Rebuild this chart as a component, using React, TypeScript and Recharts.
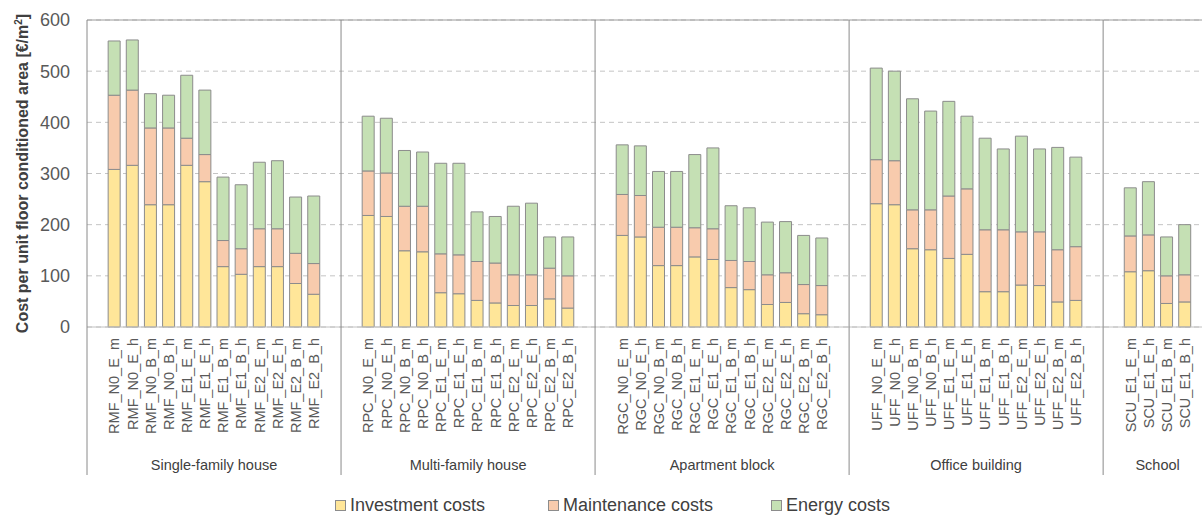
import { BarChart, Bar, XAxis, YAxis, CartesianGrid, ReferenceLine, Label } from 'recharts'

const groupNames = ['Single-family house', 'Multi-family house', 'Apartment block', 'Office building', 'School']

const sfhLabels = ['RMF_N0_E_m', 'RMF_N0_E_h', 'RMF_N0_B_m', 'RMF_N0_B_h', 'RMF_E1_E_m', 'RMF_E1_E_h', 'RMF_E1_B_m', 'RMF_E1_B_h', 'RMF_E2_E_m', 'RMF_E2_E_h', 'RMF_E2_B_m', 'RMF_E2_B_h']
const mfhLabels = ['RPC_N0_E_m', 'RPC_N0_E_h', 'RPC_N0_B_m', 'RPC_N0_B_h', 'RPC_E1_E_m', 'RPC_E1_E_h', 'RPC_E1_B_m', 'RPC_E1_B_h', 'RPC_E2_E_m', 'RPC_E2_E_h', 'RPC_E2_B_m', 'RPC_E2_B_h']
const abLabels = ['RGC_N0_E_m', 'RGC_N0_E_h', 'RGC_N0_B_m', 'RGC_N0_B_h', 'RGC_E1_E_m', 'RGC_E1_E_h', 'RGC_E1_B_m', 'RGC_E1_B_h', 'RGC_E2_E_m', 'RGC_E2_E_h', 'RGC_E2_B_m', 'RGC_E2_B_h']
const obLabels = ['UFF_N0_E_m', 'UFF_N0_E_h', 'UFF_N0_B_m', 'UFF_N0_B_h', 'UFF_E1_E_m', 'UFF_E1_E_h', 'UFF_E1_B_m', 'UFF_E1_B_h', 'UFF_E2_E_m', 'UFF_E2_E_h', 'UFF_E2_B_m', 'UFF_E2_B_h']
const schLabels = ['SCU_E1_E_m', 'SCU_E1_E_h', 'SCU_E1_B_m', 'SCU_E1_B_h']

// €/m2, per building type
const investment = [
  [308, 316, 239, 239, 316, 284, 118, 103, 118, 118, 85, 64],
  [218, 216, 149, 147, 67, 65, 52, 47, 42, 42, 55, 37],
  [179, 176, 120, 120, 137, 132, 77, 73, 44, 48, 26, 24],
  [241, 239, 153, 151, 134, 142, 69, 69, 82, 81, 49, 52],
  [108, 110, 46, 49],
]
const maintenance = [
  [145, 147, 150, 150, 53, 53, 51, 50, 74, 74, 59, 60],
  [87, 85, 87, 89, 76, 76, 76, 78, 60, 60, 60, 63],
  [80, 81, 75, 75, 57, 60, 53, 55, 58, 58, 57, 57],
  [86, 86, 76, 78, 122, 128, 121, 121, 104, 105, 102, 105],
  [70, 70, 54, 53],
]
const energy = [
  [106, 98, 67, 64, 123, 126, 124, 125, 130, 133, 110, 132],
  [107, 107, 109, 106, 177, 179, 97, 91, 134, 140, 61, 76],
  [97, 97, 109, 109, 143, 158, 107, 105, 103, 100, 96, 93],
  [179, 175, 217, 193, 185, 142, 179, 158, 187, 162, 200, 175],
  [94, 104, 76, 98],
]
const yTicks = [0, 100, 200, 300, 400, 500, 600]

const groupLabels = [sfhLabels, mfhLabels, abLabels, obLabels, schLabels]

interface Row {
  key: string
  label: string
  group?: string
  groupSlots?: number
  investment?: number
  maintenance?: number
  energy?: number
}

// each group gets an empty slot before and after its bars (Excel style)
const chartData: Row[] = []
groupLabels.forEach((labels, g) => {
  chartData.push({ key: `g${g}a`, label: '', group: groupNames[g], groupSlots: labels.length + 2 })
  labels.forEach((label, i) => {
    chartData.push({
      key: label,
      label,
      investment: investment[g][i],
      maintenance: maintenance[g][i],
      energy: energy[g][i],
    })
  })
  chartData.push({ key: `g${g}b`, label: '' })
})

const PLOT_LEFT = 87
const PLOT_TOP = 20
const PLOT_BOTTOM = 327
const PLOT_WIDTH = 1125
const SLOT = PLOT_WIDTH / chartData.length
const CHART_W = PLOT_LEFT + PLOT_WIDTH + 8
const CHART_H = 515
const FONT = '"Liberation Sans", Arial, sans-serif'

const COLORS = {
  investment: '#FFE699',
  maintenance: '#F8CBAD',
  energy: '#C5E0B4',
}

function CategoryTick(props: any) {
  const { x, y, payload } = props
  const row = chartData.find((r) => r.key === payload.value)
  if (!row) return null
  const half = payload.offset || SLOT / 2
  if (row.group) {
    const xb = x - half
    return (
      <g>
        <line x1={xb} x2={xb} y1={PLOT_TOP} y2={475} stroke="#8a8a8a" strokeWidth={1} />
        <text
          x={xb + (row.groupSlots || 0) * half}
          y={470}
          textAnchor="middle"
          fontSize={14.5}
          fontFamily={FONT}
          fill="#404040"
        >
          {row.group}
        </text>
      </g>
    )
  }
  if (!row.label) return null
  return (
    <g transform={`translate(${x},${y + 3})`}>
      <text transform="rotate(-90)" textAnchor="end" dy="0.36em" fontSize={14.5} fontFamily={FONT} fill="#595959">
        {row.label}
      </text>
    </g>
  )
}

function YTitle() {
  const cx = 22
  const cy = (PLOT_TOP + PLOT_BOTTOM) / 2
  return (
    <text
      x={cx}
      y={cy}
      transform={`rotate(-90, ${cx}, ${cy})`}
      textAnchor="middle"
      dy="0.35em"
      fontSize={16}
      fontWeight="bold"
      fontFamily={FONT}
      fill="#404040"
    >
      Cost per unit floor conditioned area [€/m
      <tspan dy={-6} fontSize={10}>2</tspan>
      <tspan dy={6}>]</tspan>
    </text>
  )
}

const legendItems = [
  { name: 'Investment costs', color: COLORS.investment, left: 335 },
  { name: 'Maintenance costs', color: COLORS.maintenance, left: 548 },
  { name: 'Energy costs', color: COLORS.energy, left: 771 },
]

export default function App() {
  return (
    <div
      style={{
        position: 'absolute',
        left: 0,
        top: 0,
        width: 1202,
        height: CHART_H,
        overflow: 'hidden',
        background: '#fff',
      }}
    >
      <BarChart
        width={CHART_W}
        height={CHART_H}
        data={chartData}
        margin={{ top: PLOT_TOP, right: 8, left: 0, bottom: 0 }}
        barSize={12}
      >
        <CartesianGrid vertical={false} stroke="#c4c4c4" strokeDasharray="5 4" />
        <ReferenceLine y={600} stroke="#9a9a9a" strokeWidth={1} />
        <XAxis
          dataKey="key"
          interval={0}
          height={CHART_H - PLOT_BOTTOM}
          axisLine={{ stroke: '#c0c0c0' }}
          tickLine={false}
          tick={<CategoryTick />}
        />
        <YAxis
          width={PLOT_LEFT}
          domain={[0, 600]}
          ticks={yTicks}
          axisLine={false}
          tickLine={false}
          tickSize={0}
          tickMargin={17}
          tick={{ fontSize: 18, fill: '#595959', fontFamily: FONT }}
        >
          <Label content={<YTitle />} />
        </YAxis>
        <Bar dataKey="investment" stackId="a" fill={COLORS.investment} stroke="#8c8c8c" strokeWidth={1} isAnimationActive={false} />
        <Bar dataKey="maintenance" stackId="a" fill={COLORS.maintenance} stroke="#8c8c8c" strokeWidth={1} isAnimationActive={false} />
        <Bar dataKey="energy" stackId="a" fill={COLORS.energy} stroke="#8c8c8c" strokeWidth={1} isAnimationActive={false} />
      </BarChart>
      {legendItems.map((item) => (
        <div
          key={item.name}
          style={{
            position: 'absolute',
            left: item.left,
            top: 495,
            display: 'flex',
            alignItems: 'center',
            fontFamily: FONT,
            fontSize: 18,
            lineHeight: '20px',
            color: '#404040',
            whiteSpace: 'nowrap',
          }}
        >
          <span
            style={{
              display: 'inline-block',
              width: 9,
              height: 9,
              background: item.color,
              border: '1px solid #8c8c8c',
              marginRight: 4,
            }}
          />
          {item.name}
        </div>
      ))}
    </div>
  )
}
